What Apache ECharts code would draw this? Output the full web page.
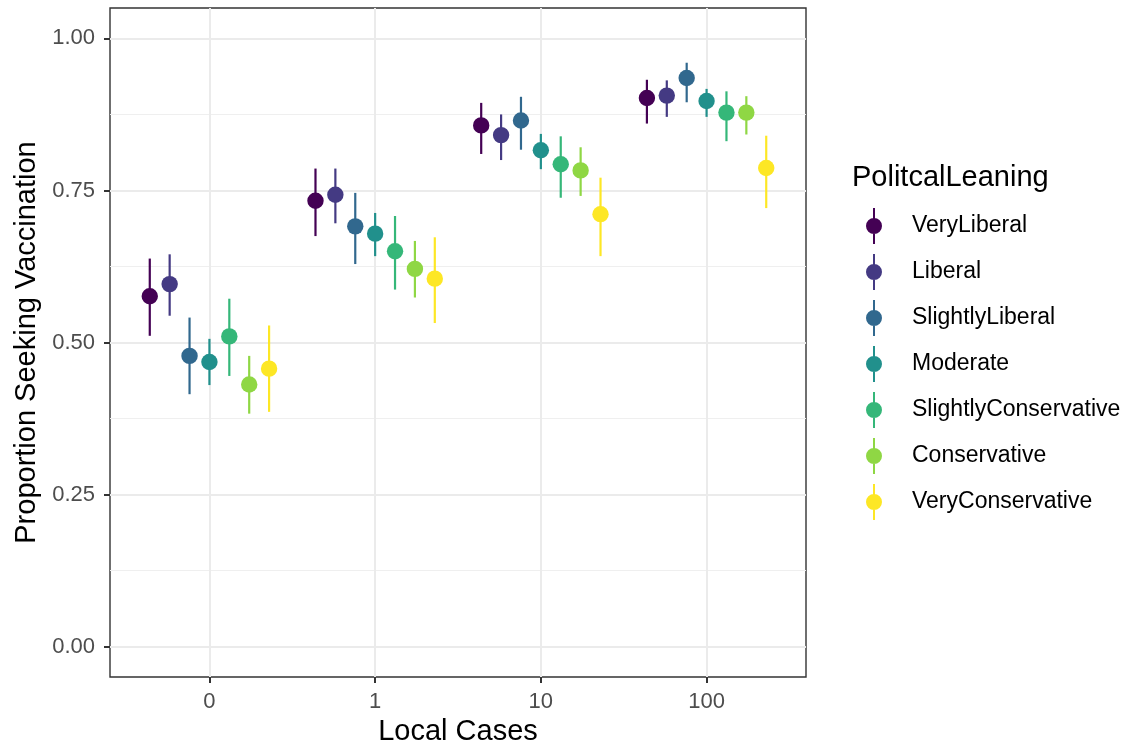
<!DOCTYPE html>
<html>
<head>
<meta charset="utf-8">
<script src="https://cdn.jsdelivr.net/npm/echarts@6/dist/echarts.min.js"></script>
<style>
html,body{margin:0;padding:0;background:#fff;}
#chart{width:1139px;height:746px;}
</style>
</head>
<body>
<div id="chart"></div>
<script>
// Categories (x axis) and tick labels
const categories = ['0', '1', '10', '100'];
const xTickPositions = [0, 1, 2, 3];
const yTicks = [0, 0.25, 0.5, 0.75, 1];
const yMinorTicks = [0.125, 0.375, 0.625, 0.875];
const leanings = ['VeryLiberal', 'Liberal', 'SlightlyLiberal', 'Moderate',
                  'SlightlyConservative', 'Conservative', 'VeryConservative'];
const colors = ['#440154', '#443A83', '#31688E', '#21908C', '#35B779', '#8FD744', '#FDE725'];

// Each row: [estimate, lower, upper] for categories 0, 1, 10, 100
const veryLiberal = [[0.576, 0.511, 0.638], [0.733, 0.675, 0.786], [0.857, 0.810, 0.894], [0.902, 0.860, 0.932]];
const liberal = [[0.596, 0.544, 0.645], [0.743, 0.696, 0.786], [0.841, 0.800, 0.875], [0.906, 0.871, 0.931]];
const slightlyLiberal = [[0.478, 0.415, 0.541], [0.691, 0.629, 0.746], [0.865, 0.817, 0.904], [0.935, 0.895, 0.960]];
const moderate = [[0.468, 0.430, 0.506], [0.679, 0.642, 0.713], [0.816, 0.785, 0.843], [0.897, 0.871, 0.917]];
const slightlyConservative = [[0.510, 0.445, 0.572], [0.650, 0.587, 0.708], [0.793, 0.738, 0.839], [0.878, 0.831, 0.913]];
const conservative = [[0.431, 0.383, 0.478], [0.621, 0.574, 0.667], [0.783, 0.741, 0.821], [0.878, 0.842, 0.905]];
const veryConservative = [[0.457, 0.386, 0.528], [0.605, 0.532, 0.673], [0.711, 0.642, 0.771], [0.787, 0.721, 0.840]];

const groups = [veryLiberal, liberal, slightlyLiberal, moderate,
                slightlyConservative, conservative, veryConservative];

const FONT = '"Liberation Sans", Arial, Helvetica, sans-serif';
const dodgeStep = 0.12;
const legendIcon = 'path://M7,0L9,0L9,36L7,36Z M0,18A8,8,0,1,1,16,18A8,8,0,1,1,0,18Z';

const series = groups.map((g, j) => ({
  name: leanings[j],
  type: 'custom',
  itemStyle: { color: colors[j] },
  encode: { x: 0, y: [1, 2, 3] },
  data: g.map((r, i) => [i, r[0], r[1], r[2]]),
  renderItem: function (params, api) {
    const x = api.value(0) + (params.seriesIndex - 3) * dodgeStep;
    const top = api.coord([x, api.value(3)]);
    const bot = api.coord([x, api.value(2)]);
    const mid = api.coord([x, api.value(1)]);
    const c = api.visual('color');
    return {
      type: 'group',
      children: [
        { type: 'line', shape: { x1: top[0], y1: top[1], x2: bot[0], y2: bot[1] },
          style: { stroke: c, lineWidth: 2.2 } },
        { type: 'circle', shape: { cx: mid[0], cy: mid[1], r: 8.2 },
          style: { fill: c } }
      ]
    };
  }
}));

const chart = echarts.init(document.getElementById('chart'), null, { renderer: 'canvas' });
chart.setOption({
  backgroundColor: '#ffffff',
  animation: false,
  textStyle: { fontFamily: FONT },
  title: {
    text: 'PolitcalLeaning',
    left: 852, top: 163, padding: 0,
    textStyle: { fontFamily: FONT, fontSize: 29, fontWeight: 'normal', color: '#000' }
  },
  legend: {
    orient: 'vertical',
    left: 866, top: 208, padding: 0,
    itemWidth: 66, itemHeight: 36, itemGap: 10,
    symbolKeepAspect: true,
    selectedMode: false,
    textStyle: { fontFamily: FONT, fontSize: 23, color: '#000' },
    data: leanings.map(n => ({ name: n, icon: legendIcon }))
  },
  grid: {
    left: 110, right: 333, top: 8, bottom: 69,
    containLabel: false,
    outerBoundsMode: 'none',
    show: true, borderColor: '#333333', borderWidth: 1.4, backgroundColor: 'transparent'
  },
  xAxis: {
    type: 'value',
    min: -0.6, max: 3.6,
    name: 'Local Cases',
    nameLocation: 'middle', nameGap: 40,
    nameTextStyle: { fontFamily: FONT, fontSize: 29, color: '#000' },
    axisLine: { show: false, onZero: false },
    axisTick: { show: true, inside: false, length: 6, customValues: xTickPositions,
                lineStyle: { color: '#333333', width: 2 } },
    axisLabel: { customValues: xTickPositions, margin: 14,
                 fontFamily: FONT, fontSize: 22, color: '#4D4D4D',
                 formatter: v => categories[Math.round(v)] },
    splitLine: { show: true, lineStyle: { color: '#EBEBEB', width: 2 } }
  },
  yAxis: [{
    type: 'value',
    min: -0.05, max: 1.05,
    name: 'Proportion Seeking Vaccination',
    nameLocation: 'middle', nameGap: 54,
    nameTextStyle: { fontFamily: FONT, fontSize: 29, color: '#000' },
    axisLine: { show: false, onZero: false },
    axisTick: { show: true, inside: false, length: 6, customValues: yTicks,
                lineStyle: { color: '#333333', width: 2 } },
    axisLabel: { customValues: yTicks, margin: 15,
                 fontFamily: FONT, fontSize: 22, color: '#4D4D4D',
                 formatter: v => v.toFixed(2) },
    splitLine: { show: true, lineStyle: { color: '#EBEBEB', width: 2 } }
  }, {
    type: 'value',
    min: -0.05, max: 1.05,
    position: 'left',
    axisLine: { show: false, onZero: false },
    axisTick: { show: false, customValues: yMinorTicks },
    axisLabel: { show: false, customValues: yMinorTicks },
    splitLine: { show: true, lineStyle: { color: '#EFEFEF', width: 1 } }
  }],
  series: series
});
</script>
</body>
</html>
